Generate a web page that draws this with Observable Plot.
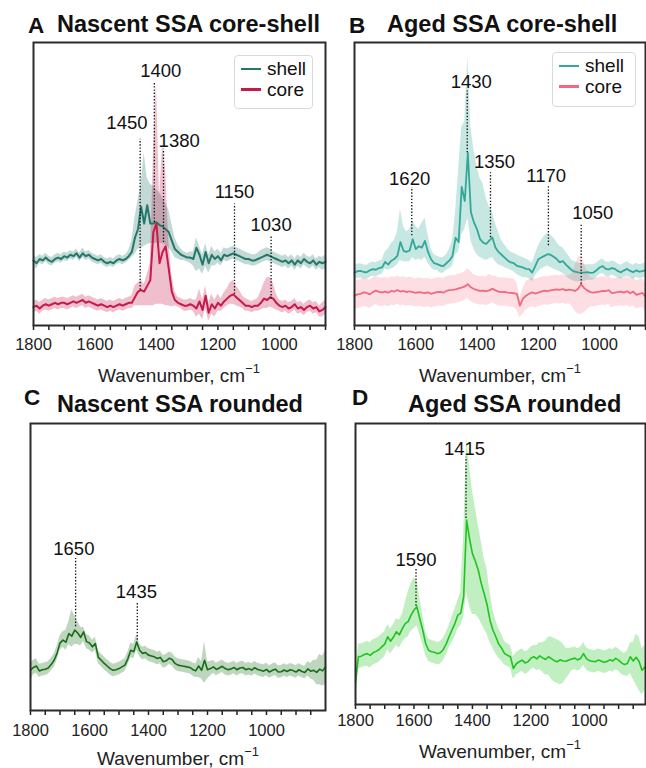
<!DOCTYPE html>
<html>
<head>
<meta charset="utf-8">
<script src="https://cdn.jsdelivr.net/npm/d3@7"></script>
<script src="https://cdn.jsdelivr.net/npm/@observablehq/plot@0.6"></script>
<style>
  body { margin: 0; background: #fff; }
  #root { position: relative; width: 646px; height: 768px; overflow: hidden; font-family: "Liberation Sans", Arial, sans-serif; color: #111; }
  .abs { position: absolute; white-space: nowrap; line-height: 1; }
  .title { font-weight: bold; font-size: 23.5px; }
  .letter { font-weight: bold; font-size: 22.5px; }
  .xlabel { font-size: 19px; color: #222; }
  .xlabel sup { font-size: 13px; vertical-align: 9px; line-height: 0; }
  .legend { position: absolute; border: 1px solid #d9d9d9; border-radius: 4px; background: #fff; font-size: 19px; }
  .legend .item { position: absolute; display: flex; align-items: center; }
  .legend .sw { width: 20px; height: 2.6px; margin-right: 6px; }
</style>
</head>
<body>
<div id="root"></div>
<script>
// ---------------- data ----------------
const wnAB = [1800,1790,1780,1770,1760,1750,1740,1730,1720,1710,1700,1690,1680,1670,1660,1650,1640,1630,1620,1610,1600,1590,1580,1570,1560,1550,1540,1530,1520,1510,1500,1490,1480,1470,1460,1450,1440,1430,1420,1410,1400,1390,1380,1370,1360,1350,1340,1330,1320,1310,1300,1290,1280,1270,1260,1250,1240,1230,1220,1210,1200,1190,1180,1170,1160,1150,1140,1130,1120,1110,1100,1090,1080,1070,1060,1050,1040,1030,1020,1010,1000,990,980,970,960,950,940,930,920,910,900,890,880,870,860,850];
const wnC = wnAB.concat([840,830,820,810,800]);
const wnD = wnAB.concat([840,830,820,810]);

const tickLabels = [1800,1600,1400,1200,1000];
const minorTicks = [1800,1750,1700,1650,1600,1550,1500,1450,1400,1350,1300,1250,1200,1150,1100,1050,1000,950,900,850];

// Panel A: nascent core-shell
const aShell = [23,22,23.5,23,24,23,22.5,23.5,24,23.5, 24.5,24,25,24.5,25.5,24,25.5,24.5,25,24, 23.5,23,23.5,22.5,22,22.5,22,23,23.5,23, 23.5,24.5,26,31,34,42,36,42.5,36,36, 36.5,35.5,35,34,33,30,27,26,25,24.5, 24,24,23.5,27.5,25,21.5,26,22,25,23.5, 24.5,23,25,24.5,25,25.5,25,24.5,24,23.5, 23.5,23,23,23.5,24,24.5,25,24.5,24,23.5, 23,22.5,23,22,23,21.5,23,22,23.5,22.5, 22,23,21.5,22.5,22,22.5];
const aShellLo = [21,20,22,21.5,22.5,21.5,21,22,22.5,22, 23,22.5,23.5,23,24,22.5,24,23,23.5,22.5, 22,21.5,22,21,20.5,21,20.5,21.5,22,21.5, 22,23,24,25,27,27,28,28.5,29,29, 29,29,29,28.5,27.5,26,24,23.5,23,23, 22.5,22,21,19,20,18,21,18.5,21,21, 22,21,23,22.5,23,23.5,23,22.5,22,21.5, 21.5,21,21,21.5,22,22.5,23,22.5,22,21.5, 21,20.5,21,20,21,19.5,21,20,21.5,20.5, 20,21,19.5,20.5,19.5,20];
const aShellHi = [25,24,25,24.5,25.5,24.5,24,25,25.5,25, 26,25.5,26.5,26,27,25.5,27.5,26,26.5,25.5, 25,24.5,25,24,23.5,24,23.5,24.5,25,24.5, 25,26.5,30,38,44,50,61,52,50,49, 48,47,45,43,41,36,31,28.5,27,26, 25.5,26,26,31,28,25,29,25,28,26, 27,25.5,27.5,27,27.5,28,27.5,27,26.5,26, 25.5,25,25,25.5,26.5,27,27.5,27,26,25.5, 25,24.5,25,24,25,23.5,25,24,25.5,24.5, 24,25,23.5,24.5,24,25];
const aCore = [6.5,7,6,7,7.5,7,7.5,8,7.5,8, 8,7.5,8,8.5,8,8.5,9,8,8.5,8, 7.5,7,7.5,7,6.5,7,6.5,7,7.5,7, 7.5,8,8,10,12,12.5,12,14,16,33, 36,22,26,28,20,12,9,8,7.5,7, 7,7.5,7,6,8.5,5.5,10.5,4.5,7.5,6, 8,7,8.5,9.5,10.5,11,10,9,8,7, 7,6.5,7,7,8,9.5,9,10,9.5,8, 7,6.5,7,6,6.5,7.5,6,6.5,5.5,6.5, 7,6,6.5,5,5.5,6.5];
const aCoreLo = [4.5,5,4,5,5.5,5,5.5,6,5.5,6, 6,5.5,6,6.5,6,6.5,7,6,6.5,6, 5.5,5,5.5,5,4.5,5,4.5,5,5.5,5, 5.5,6,6,7,7,7,7,7,7,7, 7.5,7.5,7.5,7,7,6.5,7,6.5,6,5, 5,5.5,5,3,4,2,6,1.5,4,3, 5,5,6,7,7.5,7.5,7,6.5,6,5, 5,4.5,5,5,5.5,6,6,6.5,6,5.5, 5,4.5,5,4,4.5,5.5,4,4.5,3.5,4.5, 5,4,4.5,3,3,4];
const aCoreHi = [8.5,9,8,9,9.5,9,9.5,10,9.5,10, 10,9.5,10,10.5,10,10.5,11,10,10.5,10, 9.5,9,9.5,9,8.5,9,8.5,9,9.5,9, 9.5,10,10.5,14,15,16,14.5,18,22,60, 86,45,64,55,30,18,12,10,9.5,9, 9,9.5,9,9,13,9,14,8,11,9, 11,9.5,11.5,13,15,16,14,12.5,10.5,9.5, 9,8.5,9,9.5,12,15,17,17,15,11, 9,8.5,9,8,8.5,9.5,8,8.5,7.5,8.5, 9,8,8.5,7,8,9];

// Panel B: aged core-shell
const bShell = [18.7,19.2,19.3,18.9,18.8,19.5,19.9,19.7,20.3,20.5, 22.5,21.5,22.9,23.5,24.6,29.5,26.4,26,26.5,30.5, 27,28,27.5,29.9,26,23.4,22,21.7,21.2,21, 22,23,24.6,31,29.5,49,44,61,40,36.4, 34,30.5,29.3,28.8,30,31.1,27.6,26,25,24, 23,22.3,22,21.1,20.8,20.5,20,19.9,18.7,21, 23.4,24,24.6,25.2,25,24.3,23.5,22.3,22.8,21.5, 20.5,19.5,19,18.8,18.7,18.7,18.9,18.6,18.7,19.5, 20.5,21,20,19.8,20.3,20,19.2,18.8,19.5,20, 19.3,18.8,19.5,19,19.2,19.6];
const bShellLo = [16.2,16.7,16.8,16.4,16.3,17,17.4,17.2,17.8,18, 20,19.5,20,20.5,21.5,23,22.5,22.5,22.5,24, 23,23.5,23,24,22,20.5,19.5,19.5,18.5,18.5, 19.5,20,21,25,26,32,34,38,30,27, 25,24,23.5,23,23.5,24,22.5,21.5,21,20.5, 20,19.5,19,18,17.5,17,17,16.5,15.5,17.5, 19,20,20.5,21,20.5,20,19.5,19,18.5,17.5, 16.5,16,15.5,15.5,15.5,15.5,16,16,16,17, 18,18.5,17.5,17.3,17.8,17.5,16.7,16.3,17,17.5, 16.8,16.3,17,16.5,16.7,17.1];
const bShellHi = [21.2,21.7,21.8,21.4,21.3,22,22.4,22.2,22.8,23, 26,27,29,30,33,41,35,33,34,37, 35,34,36,38,32,27,25,24.5,24,24, 25,27,30,40,55,70,72,95,70,62, 56,52,50,45,42,40,36,33,30,28.5, 27,26,25.5,25,24.5,24,23.5,23,22,25, 28,30,31.5,32.5,32,31,29.5,28,27.5,26, 24.5,23,22.5,22,22,21.5,21.5,21.5,21.5,22, 23,23.5,22.5,22.3,22.8,22.5,21.7,21.3,22,22.5, 21.8,21.3,22,21.5,21.7,22.1];
const bCore = [10.5,11,11.2,11.7,11.5,11,11.8,12.3,11.9,11.7, 12,11.6,12.2,12,12.5,12,12.2,11.8,12.1,11.8, 11.5,11.8,11.6,11.4,11.7,11.2,11.5,11.8,11.9,11.6, 12.2,12.5,12.6,12.8,13.1,13.4,13.8,14.6,13.5,12.9, 12.5,12.2,12.3,12.1,12.4,13,12.4,12,11.8,11.9, 11.6,11.5,11.4,11.2,7,9.5,10.5,11.2,11.7,11.3, 11.6,12,12.3,12.1,12.4,12.6,12.8,12.6,12.9,12.4, 12.7,12.5,12.2,13,14.6,13.2,12.4,11.8,11.6,11.8, 12,12.2,12.1,12.5,11.4,11.6,11.8,12,11.6,12.1, 11.4,12,10.8,11.2,11.5,10.2];
const bCoreLo = [5.5,6,6.2,6.7,6.5,6,6.8,7.3,6.9,6.7, 7,6.6,7.2,7,7.5,7,7.2,6.8,7.1,6.8, 6.5,6.8,6.6,6.4,6.7,6.2,6.5,6.8,6.9,6.6, 7.2,7.5,7.6,7.8,8.1,8.4,8.8,9.6,8.5,7.9, 7.5,7.2,7.3,7.1,7.4,8,7.4,7,6.8,6.9, 6.6,6.5,6.4,5.5,2.8,4,5.5,6.2,6.7,6.3, 6.6,7,7.3,7.1,7.4,7.6,7.8,7.6,7.9,7.4, 7.7,7,5,4,4,4.5,5.5,6.5,6.6,6.8, 7,7.2,7.1,7.5,6.4,6.6,6.8,7,6.6,7.1, 6.4,7,5.8,6.2,6.5,5.2];
const bCoreHi = [15.5,16,16.2,16.7,16.5,16,16.8,17.3,16.9,16.7, 17,16.6,17.2,17,17.5,17,17.2,16.8,17.1,16.8, 16.5,16.8,16.6,16.4,16.7,16.2,16.5,16.8,16.9,16.6, 17.2,17.5,17.6,17.8,18.1,18.4,19,20,19,17.9, 17.5,17.2,17.3,17.1,18,17.5,17.4,17,16.8,16.9, 16.6,16.5,16.4,15,10,13,15.5,16.2,16.7,16.3, 16.6,17,17.3,17.1,17.4,17.6,17.8,17.6,17.9,17.4, 17.7,18,21,24,24.6,22,19,17,16.6,16.8, 17,17.2,17.1,17.5,16.4,16.6,16.8,17,16.6,17.1, 16.4,17,15.8,16.2,16.5,15.2];

// Panel C: nascent rounded
const cMean = [14.1,15,15.5,13.8,14.2,14.4,14.8,16,17.5,19.9, 23.5,24.5,23.8,26.8,25.9,28,27,25.5,27.4,24, 23.5,22.2,23.3,18.5,17.5,16.4,15.5,14.6,14,14.2, 14.6,15.2,15.8,18,21,20.5,23.9,21,19.9,20.2, 19.3,19,18.7,18.1,18.5,17,17.3,18.2,17.8,16.4, 15.8,15.6,15.4,15.2,15,14.3,13.8,15.5,14,17.5, 14.2,14.6,15.2,14.3,14.8,15.4,14.6,14.2,14.5,15, 14.2,14.8,15,14.2,14.6,14.1,14.9,14.3,14,13.7, 14.3,13.4,14,14.4,13.4,13.5,14.1,13.6,14.2,13.9, 13.4,14.2,13.6,13.2,14.5,13.7,14,13.3,14.4,13.8, 15.2];
const cLo = [10.5,12.5,13,11.5,12,12.2,12.6,13.8,15,17.5, 21,22,21,23,22,23,23,22.5,24,21.5, 21,20,21,16.3,15.3,14.2,13.3,12.4,11.8,12, 12.4,13,13.6,15.8,18.5,18,21,18.8,17.7,18, 17.1,16.8,16.5,15.9,16.3,14.8,15.1,16,15.6,14.2, 13.6,13.4,13.2,13,12.8,12,11.5,11.5,11,9.5, 11,12,13,12.1,12.6,13.2,12.4,12,12.3,12.8, 12,12.6,12.8,12,12.4,11.9,12.7,12.1,11.8,11.5, 12.1,11.2,11.8,12.2,11.2,11.3,11.9,11.4,12,11.7, 11.2,12,11.4,11,12,11,10.5,9,9,8.5, 9];
const cHi = [16.5,17.5,18,16.1,16.4,16.6,17,18.2,19.7,22.3, 26,27.5,28,31,35,33,31,29,29,26.5, 26,24.5,25.5,20.7,19.7,18.6,17.7,16.8,16.2,16.4, 16.8,17.4,18,20.2,23.5,23,26.5,23.2,22.1,22.4, 21.5,21.2,20.9,20.3,20.7,19.2,19.5,20.4,20,18.6, 18,17.8,17.6,17.4,17.2,16.6,16.2,18.5,17,24, 17,17.2,17.4,16.5,17,17.6,16.8,16.4,16.7,17.2, 16.4,17,17.2,16.4,16.8,16.3,17.1,16.5,16.2,15.9, 16.5,15.6,16.2,16.6,15.6,15.7,16.3,15.8,16.4,16.1, 15.6,16.4,15.8,15.4,17,16.5,17.5,17.5,19.5,19, 21];

// Panel D: aged rounded
const dMean = [8,17,17.2,17.8,18.1,17.5,18.4,18.9,19.5,20.5, 21.5,24.1,22.5,24,25.9,24.8,27,28.8,29.5,31.8, 33.6,34.8,30.5,26.5,21.7,19.3,18.8,18.6,18.1,18.4, 19.5,21.5,24.1,26.5,28.8,31.8,32.5,38.3,65.6,59, 53.7,51,47.8,43.1,39.5,35.5,30,26.5,24.1,21.5, 20,18.1,17.5,17,12.8,14.5,15.2,15.8,14.8,15.2, 16.5,17,16.2,17.3,16.6,16,17,16.3,15.6,15.2, 15.9,15.5,15.4,15.8,16.2,16.5,15.9,16.4,18.1,16.3, 15.6,15.4,15.2,15.8,15.5,15,15.3,15.9,15.5,16.4, 15.8,14.8,14.2,14.6,17,15.5,16.8,15.3,12.2,13.3];
const dLo = [0,12.5,13,13.5,13.5,13,14,14.5,15,16, 17,19.5,18,19.5,21,20,22,23.5,24,26, 27,28,25,21.5,17.5,15.3,14.8,14.6,14.1,14.4, 15.5,17.5,20,22,24,27,28,31,40,35, 32,32,31,29,27,25,22,20,18,16.5, 15.5,14,13.5,13,9,10.5,11.2,11.8,10.8,11.2, 12.5,13,12,12.5,11.5,10.5,10.5,9,8,7.5, 7,7.5,9,10.5,12,12.5,11.9,12.4,14,12.3, 11.6,11.4,11.2,11.8,11.5,11,11.3,11.9,11.5,12.4, 11.8,10.8,10.2,10,11,9,7,5,3.5,5];
const dHi = [10,21.5,21.5,22,22.5,22,23,23.5,24,25, 26,28.5,27,28.5,30.5,30,32,36,40,43, 45,44,38,32,26,23.3,22.8,22.6,22.1,22.4, 23.5,25.5,28,31,34,37,40,60,95,85, 76,70,64,58,52,48,40,34,30,27, 25,22.5,21.5,21,17,18.5,19.2,19.8,18.8,19.2, 20.5,21,21,22,22,22.5,24,24,23.5,23, 22.5,21.5,20,19.8,20.2,20.5,19.9,20.4,22.1,20.3, 19.6,19.4,19.2,19.8,19.5,19,19.3,19.9,19.5,20.4, 19.8,18.8,18.2,19,22,22,25,24,20,21];

// Peak annotations: label, line wavenumber, line bottom/top, label position (data units)
const annotA = [
  {label: "1450", x: 1453, y1: 12.5, y2: 65.8, lx: 1496, ly: 71.7},
  {label: "1400", x: 1407, y1: 36.4, y2: 85.9, lx: 1386, ly: 90},
  {label: "1380", x: 1377, y1: 29.3, y2: 62.3, lx: 1326, ly: 65.3},
  {label: "1150", x: 1146, y1: 11,   y2: 42.9, lx: 1146, ly: 47},
  {label: "1030", x: 1027, y1: 9.3,  y2: 31.7, lx: 1027, ly: 35.5}
];
const annotB = [
  {label: "1620", x: 1613, y1: 31.7, y2: 48.8, lx: 1620, ly: 51.7},
  {label: "1430", x: 1432, y1: 61,   y2: 82.9, lx: 1419, ly: 85.9},
  {label: "1350", x: 1356, y1: 31,   y2: 54,   lx: 1343, ly: 57.8},
  {label: "1170", x: 1167, y1: 28.2, y2: 49.4, lx: 1174, ly: 52.9},
  {label: "1050", x: 1060, y1: 14.6, y2: 35.8, lx: 1022, ly: 39.7}
];
const annotC = [
  {label: "1650", x: 1647, y1: 29.2, y2: 53,   lx: 1653, ly: 56.4},
  {label: "1435", x: 1438, y1: 24.5, y2: 37.9, lx: 1441, ly: 41.3}
];
const annotD = [
  {label: "1415", x: 1422, y1: 66.2, y2: 88,   lx: 1427, ly: 91},
  {label: "1590", x: 1593, y1: 35,   y2: 48,   lx: 1593, ly: 51.4}
];

// ---------------- helpers ----------------
const FONT = '"Liberation Sans", Arial, sans-serif';
const root = document.getElementById("root");

function table(wn, mean, lo, hi) {
  return wn.map((w, i) => ({w, v: mean[i], lo: lo[i], hi: hi[i]}));
}

function panel({left, top, width, height, mL, mR, mT, mB, domain, series, annots, tickPad}) {
  const marks = [];
  for (const s of series) {
    marks.push(Plot.areaY(s.data, {x: "w", y1: "lo", y2: "hi", fill: s.color, fillOpacity: s.bandOpacity ?? 0.28}));
  }
  for (const s of series) {
    marks.push(Plot.lineY(s.data, {x: "w", y: "v", stroke: s.color, strokeWidth: s.width ?? 1.8}));
  }
  marks.push(Plot.ruleX(annots, {x: "x", y1: "y1", y2: "y2", stroke: "#111", strokeWidth: 1.3, strokeDasharray: "1.4,1.8"}));
  marks.push(Plot.text(annots, {x: "lx", y: "ly", text: "label", fontSize: 18.5, fill: "#111", fontFamily: FONT}));
  marks.push(Plot.axisX({ticks: minorTicks, tickSize: 5, tickPadding: tickPad, strokeWidth: 1.5, stroke: "#222", fontSize: 16.5, fill: "#222",
    tickFormat: d => tickLabels.includes(d) ? String(d) : "", label: null}));
  marks.push(Plot.frame({stroke: "#2b2b2b", strokeWidth: 2}));
  const chart = Plot.plot({
    width, height,
    marginLeft: mL, marginRight: mR, marginTop: mT, marginBottom: mB,
    x: {domain, label: null},
    y: {domain: [0, 100], axis: null},
    style: {fontFamily: FONT, overflow: "visible", background: "transparent"},
    marks
  });
  chart.style.position = "absolute";
  chart.style.left = left + "px";
  chart.style.top = top + "px";
  root.appendChild(chart);
}

function addText(cls, html, left, top, extra) {
  const d = document.createElement("div");
  d.className = "abs " + cls;
  d.innerHTML = html;
  d.style.left = left + "px";
  d.style.top = top + "px";
  if (extra) Object.assign(d.style, extra);
  root.appendChild(d);
  return d;
}

function xlabel(centerX, top) {
  const d = addText("xlabel", "Wavenumber, cm<sup>\u22121</sup>", 0, top);
  d.style.left = (centerX - d.offsetWidth / 2) + "px";
}

function legend(left, top, w, h, items) {
  const box = document.createElement("div");
  box.className = "legend";
  Object.assign(box.style, {left: left + "px", top: top + "px", width: w + "px", height: h + "px"});
  items.forEach((it, i) => {
    const row = document.createElement("div");
    row.className = "item";
    Object.assign(row.style, {left: "6px", top: (3 + i * 20.5) + "px", height: "20px"});
    row.innerHTML = `<span class="sw" style="background:${it.color}"></span><span>${it.label}</span>`;
    box.appendChild(row);
  });
  root.appendChild(box);
}

// ---------------- colours ----------------
const colAShell = "#23786a", colACore = "#c51a4a";
const colBShell = "#33a898", colBCore = "#f2697e";
const colC = "#176d17", colD = "#1fc41f";

// ---------------- panels ----------------
panel({left: 0, top: 30, width: 330, height: 330, mL: 33, mR: 5, mT: 12, mB: 35, domain: [1800, 850], tickPad: 8,
  series: [
    {data: table(wnAB, aShell, aShellLo, aShellHi), color: colAShell, width: 2},
    {data: table(wnAB, aCore, aCoreLo, aCoreHi), color: colACore, width: 2}
  ], annots: annotA});

panel({left: 330, top: 30, width: 316, height: 330, mL: 24, mR: 1, mT: 12, mB: 35, domain: [1800, 850], tickPad: 8,
  series: [
    {data: table(wnAB, bShell, bShellLo, bShellHi), color: colBShell, width: 1.8},
    {data: table(wnAB, bCore, bCoreLo, bCoreHi), color: colBCore, width: 1.8, bandOpacity: 0.22}
  ], annots: annotB});

panel({left: 0, top: 411, width: 330, height: 340, mL: 30, mR: 5, mT: 12, mB: 41, domain: [1800, 800], tickPad: 9,
  series: [{data: table(wnC, cMean, cLo, cHi), color: colC, width: 1.6}], annots: annotC});

panel({left: 330, top: 411, width: 316, height: 330, mL: 25, mR: 1, mT: 12, mB: 37, domain: [1800, 808], tickPad: 5,
  series: [{data: table(wnD, dMean, dLo, dHi), color: colD, width: 1.6}], annots: annotD});

// ---------------- titles & labels ----------------
addText("letter", "A", 28, 15);
addText("title", "Nascent SSA core-shell", 57, 13);
addText("letter", "B", 349, 15);
addText("title", "Aged SSA core-shell", 387, 13);
addText("letter", "C", 24, 387);
addText("title", "Nascent SSA rounded", 57, 393);
addText("letter", "D", 352, 387);
addText("title", "Aged SSA rounded", 408, 393);

xlabel(179, 366);
xlabel(500, 366);
xlabel(178, 749);
xlabel(500, 742);

legend(234, 55, 77, 52, [{label: "shell", color: colAShell}, {label: "core", color: colACore}]);
legend(552, 52, 82, 53, [{label: "shell", color: colBShell}, {label: "core", color: colBCore}]);
</script>
</body>
</html>
